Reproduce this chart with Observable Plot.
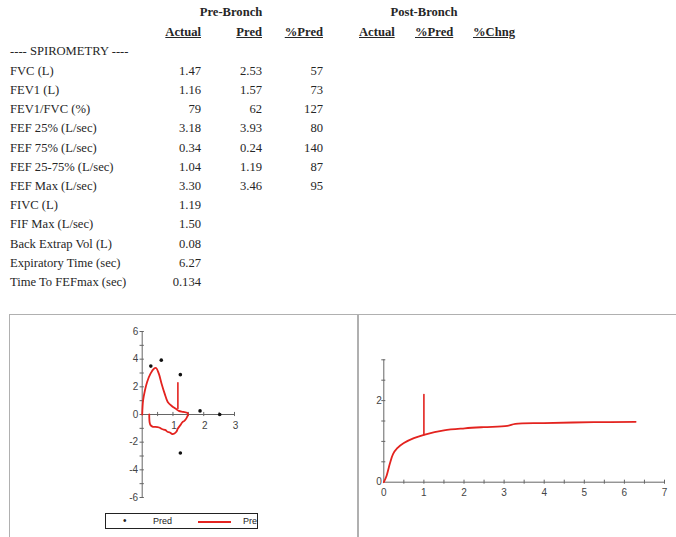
<!DOCTYPE html>
<html>
<head>
<meta charset="utf-8">
<script src="https://cdn.jsdelivr.net/npm/d3@7"></script>
<script src="https://cdn.jsdelivr.net/npm/@observablehq/plot@0.6"></script>
<style>
  html, body { margin: 0; padding: 0; background: #fff; }
  #page { position: relative; width: 676px; height: 537px; overflow: hidden; font-family: "Liberation Serif", "Times New Roman", serif; color: #262626; }
  .t { position: absolute; font-size: 12.6px; line-height: 14px; white-space: nowrap; }
  .b { font-weight: bold; }
  .u { text-decoration: underline; }
  .r { text-align: right; }
  .c { text-align: center; }
  #panel { position: absolute; left: 9px; top: 314px; width: 700px; height: 300px; border-left: 1.5px solid #b0b0b0; border-top: 1.5px solid #b0b0b0; box-sizing: border-box; }
  #divider { position: absolute; left: 357px; top: 314px; width: 1.5px; height: 230px; background: #b0b0b0; }
  #left { position: absolute; left: 9px; top: 314px; }
  #right { position: absolute; left: 359px; top: 314px; }
  #legend { position: absolute; left: 105px; top: 513px; width: 153px; height: 16px; border: 1px solid #222; box-sizing: border-box; overflow: hidden; font-family: "Liberation Sans", Arial, sans-serif; font-size: 9px; color: #222; background: #fff; }
  #legend span { position: absolute; top: 1px; line-height: 13px; }
</style>
</head>
<body>
<div id="page"></div>
<script>
// ---------- table data ----------
const rowLabels = ["FVC (L)", "FEV1 (L)", "FEV1/FVC (%)", "FEF 25% (L/sec)", "FEF 75% (L/sec)", "FEF 25-75% (L/sec)", "FEF Max (L/sec)", "FIVC (L)", "FIF Max (L/sec)", "Back Extrap Vol (L)", "Expiratory Time (sec)", "Time To FEFmax (sec)"];
const preActual = ["1.47", "1.16", "79", "3.18", "0.34", "1.04", "3.30", "1.19", "1.50", "0.08", "6.27", "0.134"];
const prePred = ["2.53", "1.57", "62", "3.93", "0.24", "1.19", "3.46", "", "", "", "", ""];
const prePctPred = ["57", "73", "127", "80", "140", "87", "95", "", "", "", "", ""];
const groupTitles = ["Pre-Bronch", "Post-Bronch"];
const preHeaders = ["Actual", "Pred", "%Pred"];
const postHeaders = ["Actual", "%Pred", "%Chng"];
const sectionTitle = "---- SPIROMETRY ----";

// ---------- flow-volume loop (volume L, flow L/sec) ----------
const loopVolume = [0, 0.03, 0.09, 0.16, 0.27, 0.38, 0.45, 0.54, 0.63, 0.73, 0.83, 0.97, 1.08, 1.19, 1.33, 1.46, 1.49,
                    1.46, 1.41, 1.36, 1.31, 1.24, 1.16, 1.11, 1.05, 0.98, 0.90, 0.82, 0.76, 0.64, 0.55, 0.43, 0.35, 0.27, 0.24, 0.23, 0.23];
const loopFlow   = [0, 1.03, 1.75, 2.35, 2.95, 3.31, 3.36, 2.95, 2.23, 1.51, 0.91, 0.60, 0.43, 0.26, 0.19, 0.12, 0,
                    -0.17, -0.36, -0.48, -0.55, -0.77, -1.01, -1.25, -1.37, -1.41, -1.30, -1.25, -1.13, -1.05, -0.94, -0.89, -0.89, -0.77, -0.55, -0.2, 0];
const fev1MarkVolume = [1.16, 1.16];
const fev1MarkFlow = [0.43, 2.3];
const predVolume = [0.28, 0.62, 1.24, 1.88, 2.52, 1.24];
const predFlow   = [3.5, 3.93, 2.88, 0.26, 0, -2.78];
const legendNames = ["Pred", "Pre"];

// ---------- volume-time curve (sec, L) ----------
const vtTime   = [0, 0.07, 0.15, 0.23, 0.33, 0.5, 0.75, 1.0, 1.5, 2.02, 2.49, 3.08, 3.28, 3.99, 5.24, 6.28];
const vtVolume = [0, 0.16, 0.45, 0.69, 0.83, 0.96, 1.08, 1.16, 1.27, 1.32, 1.35, 1.38, 1.43, 1.45, 1.47, 1.48];
const vtMarkTime = [1.0, 1.0];
const vtMarkVolume = [1.16, 2.15];

// tick labels
const leftXTicks = [1, 2, 3];
const leftYTicks = [-6, -4, -2, 0, 2, 4, 6];
const rightXTicks = [0, 1, 2, 3, 4, 5, 6, 7];
const rightYTicks = [0, 2];

// ---------- build table ----------
const page = document.getElementById("page");
function addText(txt, cls, left, top, width) {
  const d = document.createElement("div");
  d.className = "t " + cls;
  d.textContent = txt;
  d.style.top = (top - 7) + "px";
  d.style.left = left + "px";
  if (width != null) d.style.width = width + "px";
  page.appendChild(d);
  return d;
}
const groupCenters = [231, 424];
groupTitles.forEach((g, i) => addText(g, "b c", groupCenters[i] - 50, 12, 100));
const preRight = [201, 262, 323];
preHeaders.forEach((h, i) => addText(h, "b u r", preRight[i] - 60, 32, 60));
const postLeft = [359, 415, 473];
postHeaders.forEach((h, i) => addText(h, "b u", postLeft[i], 32));
addText(sectionTitle, "", 10, 51);
rowLabels.forEach((lab, i) => {
  const y = 70.7 + i * 19.2;
  addText(lab, "", 10, y);
  [preActual[i], prePred[i], prePctPred[i]].forEach((v, j) => {
    if (v !== "") addText(v, "r", preRight[j] - 60, y, 60);
  });
});

// ---------- panels ----------
const panel = document.createElement("div"); panel.id = "panel"; page.appendChild(panel);
const divider = document.createElement("div"); divider.id = "divider"; page.appendChild(divider);

const axisColor = "#666";
const red = "#e3231f";
const loop = loopVolume.map((v, i) => ({v, f: loopFlow[i]}));
const fevMark = fev1MarkVolume.map((v, i) => ({v, f: fev1MarkFlow[i]}));
const pred = predVolume.map((v, i) => ({v, f: predFlow[i]}));

const leftPlot = Plot.plot({
  width: 348, height: 196,
  marginLeft: 132.7, marginRight: 123, marginTop: 17, marginBottom: 13,
  x: {domain: [0, 3], axis: null},
  y: {domain: [-6, 6], axis: null},
  style: {fontFamily: "'Liberation Sans', Arial, sans-serif", fontSize: "10px", color: "#444", background: "transparent", overflow: "visible"},
  marks: [
    Plot.ruleY([0], {x1: 0, x2: 3, stroke: axisColor, strokeWidth: 1}),
    Plot.ruleX([0], {y1: -6, y2: 6, stroke: axisColor, strokeWidth: 1}),
    Plot.ruleX(d3.range(0.5, 3.01, 0.5), {x: d => d, y1: -0.15, y2: 0.15, stroke: axisColor}),
    Plot.ruleY(d3.range(-6, 6.01, 1), {y: d => d, x1: -0.07, x2: 0.07, stroke: axisColor}),
    Plot.text(leftXTicks, {x: d => d, y: 0, dy: 11, dx: 1, text: d => String(d), fill: "#444"}),
    Plot.text(leftYTicks, {x: 0, y: d => d, dx: -4, textAnchor: "end", text: d => String(d), fill: "#444"}),
    Plot.line(loop, {x: "v", y: "f", stroke: red, strokeWidth: 1.8, curve: "catmull-rom"}),
    Plot.line(fevMark, {x: "v", y: "f", stroke: red, strokeWidth: 1.6}),
    Plot.dot(pred, {x: "v", y: "f", r: 1.8, fill: "#111", stroke: null})
  ]
});
const leftWrap = document.createElement("div"); leftWrap.id = "left"; leftWrap.appendChild(leftPlot); page.appendChild(leftWrap);

// legend
const legend = document.createElement("div"); legend.id = "legend";
const dot = document.createElement("span"); dot.textContent = "•"; dot.style.left = "17px"; dot.style.top = "0px"; dot.style.fontSize = "10px";
const n1 = document.createElement("span"); n1.textContent = legendNames[0]; n1.style.left = "47px";
const ln = document.createElement("span"); ln.style.left = "92px"; ln.style.top = "7px"; ln.style.width = "33px"; ln.style.height = "1.6px"; ln.style.background = red;
const n2 = document.createElement("span"); n2.textContent = legendNames[1]; n2.style.left = "137px";
legend.append(dot, n1, ln, n2);
page.appendChild(legend);

const vt = vtTime.map((t, i) => ({t, v: vtVolume[i]}));
const vtMark = vtMarkTime.map((t, i) => ({t, v: vtMarkVolume[i]}));
const rightPlot = Plot.plot({
  width: 317, height: 223,
  marginLeft: 24.3, marginRight: 12, marginTop: 45.3, marginBottom: 55.3,
  x: {domain: [0, 7], axis: null},
  y: {domain: [0, 3], axis: null},
  style: {fontFamily: "'Liberation Sans', Arial, sans-serif", fontSize: "10px", color: "#444", background: "transparent", overflow: "visible"},
  marks: [
    Plot.ruleY([0], {x1: 0, x2: 7, stroke: axisColor, strokeWidth: 1}),
    Plot.ruleX([0], {y1: 0, y2: 3, stroke: axisColor, strokeWidth: 1}),
    Plot.ruleX(d3.range(0.5, 7.01, 0.5), {x: d => d, y1: -0.05, y2: 0.05, stroke: axisColor}),
    Plot.ruleY(d3.range(0.5, 3.01, 0.5), {y: d => d, x1: -0.05, x2: 0.05, stroke: axisColor}),
    Plot.text(rightXTicks, {x: d => d, y: 0, dy: 11, text: d => String(d), fill: "#444"}),
    Plot.text(rightYTicks, {x: 0, y: d => d, dx: -2, textAnchor: "end", text: d => String(d), fill: "#444"}),
    Plot.line(vt, {x: "t", y: "v", stroke: red, strokeWidth: 1.8, curve: "catmull-rom"}),
    Plot.line(vtMark, {x: "t", y: "v", stroke: red, strokeWidth: 1.6})
  ]
});
const rightWrap = document.createElement("div"); rightWrap.id = "right"; rightWrap.appendChild(rightPlot); page.appendChild(rightWrap);
</script>
</body>
</html>
